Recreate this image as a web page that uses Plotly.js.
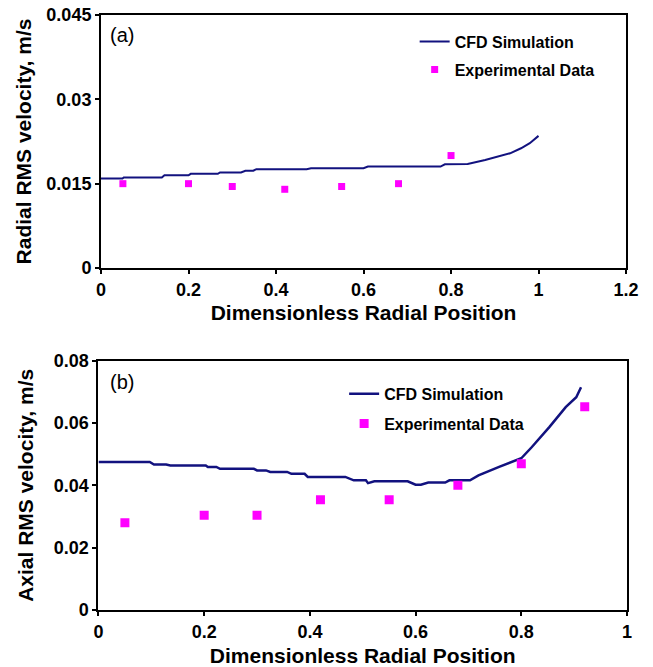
<!DOCTYPE html>
<html>
<head>
<meta charset="utf-8">
<script src="https://cdn.plot.ly/plotly-3.0.1.min.js"></script>
<style>html,body{margin:0;padding:0;background:#fff;}#chart{width:653px;height:667px;}</style>
</head>
<body>
<div id="chart"></div>
<script>
// ---- Data: (a) Radial RMS velocity ----
const radialCfdX = [0, 0.049, 0.052, 0.139, 0.145, 0.2, 0.205, 0.267, 0.272, 0.32, 0.33, 0.348, 0.355, 0.47, 0.48, 0.6, 0.61, 0.776, 0.786, 0.838, 0.878, 0.91, 0.935, 0.96, 0.98, 1.0];
const radialCfdY = [0.0159, 0.0159, 0.0161, 0.0161, 0.0165, 0.0165, 0.01675, 0.01675, 0.0170, 0.0170, 0.0173, 0.0173, 0.01757, 0.01757, 0.01774, 0.01774, 0.01804, 0.01804, 0.01845, 0.0185, 0.0192, 0.0199, 0.0204, 0.0213, 0.0222, 0.0235];
const radialExpX = [0.05, 0.2, 0.3, 0.42, 0.55, 0.68, 0.8];
const radialExpY = [0.0150, 0.0150, 0.0145, 0.0140, 0.0145, 0.0150, 0.0200];

// ---- Data: (b) Axial RMS velocity ----
const axialCfdX = [0, 0.097, 0.105, 0.128, 0.136, 0.203, 0.207, 0.223, 0.23, 0.294, 0.3, 0.317, 0.325, 0.357, 0.365, 0.39, 0.396, 0.467, 0.483, 0.506, 0.51, 0.522, 0.585, 0.6, 0.61, 0.624, 0.656, 0.664, 0.703, 0.719, 0.758, 0.8, 0.82, 0.853, 0.884, 0.904, 0.913];
const axialCfdY = [0.0475, 0.0475, 0.0467, 0.0467, 0.0464, 0.0464, 0.0459, 0.0459, 0.0453, 0.0453, 0.0448, 0.0448, 0.0443, 0.0443, 0.0437, 0.0437, 0.0427, 0.0427, 0.0416, 0.0416, 0.0407, 0.0413, 0.0413, 0.0402, 0.0402, 0.0409, 0.0409, 0.0416, 0.0416, 0.0432, 0.0459, 0.0487, 0.0523, 0.0587, 0.0651, 0.0683, 0.0715];
const axialExpX = [0.05, 0.2, 0.3, 0.42, 0.55, 0.68, 0.8, 0.92];
const axialExpY = [0.0280, 0.0304, 0.0304, 0.0354, 0.0354, 0.0400, 0.0469, 0.0652];

// ---- Labels ----
const seriesNames = ['CFD Simulation', 'Experimental Data'];
const xTitle = 'Dimensionless Radial Position';
const yTitleA = 'Radial RMS velocity, m/s';
const yTitleB = 'Axial RMS velocity, m/s';
const panelLabels = ['(a)', '(b)'];

const FONT = 'Liberation Sans, Arial, sans-serif';
const NAVY = '#12127f';
const MAGENTA = '#ff00ff';

const traces = [
  {x: radialCfdX, y: radialCfdY, mode: 'lines', name: seriesNames[0], xaxis: 'x', yaxis: 'y',
   line: {color: NAVY, width: 2}, legend: 'legend', legendgroup: 'a1'},
  {x: radialExpX, y: radialExpY, mode: 'markers', name: seriesNames[1], xaxis: 'x', yaxis: 'y',
   marker: {symbol: 'square', size: 7, color: MAGENTA}, legend: 'legend', legendgroup: 'a2'},
  {x: axialCfdX, y: axialCfdY, mode: 'lines', name: seriesNames[0], xaxis: 'x2', yaxis: 'y2',
   line: {color: NAVY, width: 2.5}, legend: 'legend2', legendgroup: 'b1'},
  {x: axialExpX, y: axialExpY, mode: 'markers', name: seriesNames[1], xaxis: 'x2', yaxis: 'y2',
   marker: {symbol: 'square', size: 9, color: MAGENTA}, legend: 'legend2', legendgroup: 'b2'}
];

const tickFont = {family: FONT, size: 18, weight: 'bold', color: '#000'};
const titleFont = {family: FONT, size: 21, weight: 'bold', color: '#000'};
function axisBase(extra) {
  return Object.assign({
    showgrid: false, zeroline: false, showline: true, mirror: true,
    linecolor: '#000', linewidth: 2, ticks: 'outside', ticklen: 4, tickwidth: 2, tickcolor: '#000',
    tickfont: tickFont
  }, extra);
}

const layout = {
  width: 653, height: 667,
  margin: {l: 0, r: 0, t: 0, b: 0},
  paper_bgcolor: '#fff', plot_bgcolor: '#fff',
  showlegend: true,
  xaxis: axisBase({domain: [0.1547, 0.9587], anchor: 'y', range: [0, 1.2], tick0: 0, dtick: 0.2,
    title: {text: xTitle, font: titleFont, standoff: 7}}),
  yaxis: axisBase({domain: [0.5982, 0.9775], anchor: 'x', range: [0, 0.045], tick0: 0, dtick: 0.015,
    title: {text: yTitleA, font: titleFont, standoff: 9}}),
  xaxis2: axisBase({domain: [0.1508, 0.9602], anchor: 'y2', range: [0, 1], tick0: 0, dtick: 0.2,
    title: {text: xTitle, font: titleFont, standoff: 9}}),
  yaxis2: axisBase({domain: [0.0855, 0.4592], anchor: 'x2', range: [0, 0.08], tick0: 0, dtick: 0.02,
    title: {text: yTitleB, font: titleFont, standoff: 14}}),
  legend: {x: 0.635, xanchor: 'left', y: 0.963, yanchor: 'top', bgcolor: 'rgba(0,0,0,0)', borderwidth: 0,
    font: {family: FONT, size: 16, weight: 'bold', color: '#000'}, traceorder: 'grouped', tracegroupgap: 4},
  legend2: {x: 0.527, xanchor: 'left', y: 0.435, yanchor: 'top', bgcolor: 'rgba(0,0,0,0)', borderwidth: 0,
    font: {family: FONT, size: 16, weight: 'bold', color: '#000'}, traceorder: 'grouped', tracegroupgap: 6},
  annotations: [
    {text: panelLabels[0], xref: 'paper', yref: 'paper', x: 108/653, y: 1 - 35/667, xanchor: 'left', yanchor: 'middle',
     showarrow: false, font: {family: FONT, size: 20, color: '#000'}},
    {text: panelLabels[1], xref: 'paper', yref: 'paper', x: 108/653, y: 1 - 382/667, xanchor: 'left', yanchor: 'middle',
     showarrow: false, font: {family: FONT, size: 20, color: '#000'}}
  ]
};

Plotly.newPlot('chart', traces, layout, {displayModeBar: false, staticPlot: true});
</script>
</body>
</html>
